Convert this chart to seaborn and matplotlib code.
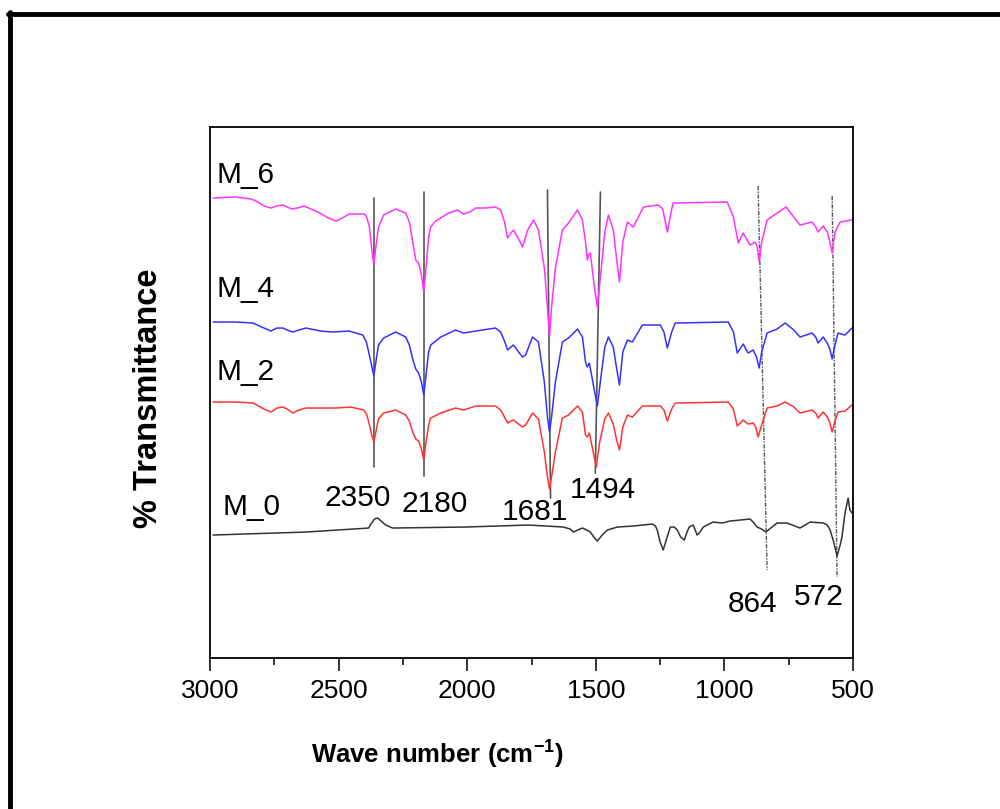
import seaborn as sns
import matplotlib.pyplot as plt
import matplotlib.lines as mlines
import pandas as pd
import numpy as np

# FTIR spectra (wave number, offset transmittance in arbitrary units)
wn_m6 = [2988, 2900, 2840, 2821, 2790, 2763, 2740, 2717, 2700, 2682, 2660, 2635, 2580, 2540,
         2511, 2485, 2460, 2402, 2392, 2380, 2372, 2363, 2355, 2345, 2325,
         2278, 2239, 2225, 2212, 2200, 2189, 2178, 2169, 2160, 2150, 2142, 2123, 2072, 2037,
         2014, 1990, 1967, 1929, 1890, 1870, 1855, 1843, 1830, 1820, 1800, 1785, 1765, 1742,
         1723, 1700, 1688, 1680, 1672, 1657, 1630, 1606, 1571, 1552, 1540, 1533, 1527, 1521,
         1508, 1494, 1480, 1465, 1451, 1432, 1420, 1408, 1395, 1377, 1354, 1315, 1257, 1240,
         1222, 1205, 1199, 989, 965, 946, 927, 912, 900, 880, 872, 865, 855, 834, 795, 760,
         730, 706, 659, 645, 636, 616, 600, 590, 581, 570, 550, 504]
tr_m6 = [439, 440, 438, 436, 431, 429, 431, 432, 430, 428, 429, 431, 425, 419,
         416, 419, 423, 423, 421, 410, 390, 372, 390, 410, 422,
         428, 424, 415, 395, 377, 374, 362, 345, 370, 400, 410, 416, 424, 427,
         423, 425, 429, 429, 430, 427, 415, 399, 404, 407, 398, 390, 407, 417,
         407, 369, 330, 300, 330, 369, 407, 414, 427, 417, 395, 377, 383, 384,
         355, 330, 365, 405, 422, 407, 380, 355, 395, 415, 410, 430, 432, 428,
         405, 428, 434, 435, 420, 394, 404, 397, 392, 395, 390, 375, 395, 417, 424, 430,
         420, 412, 415, 410, 405, 411, 405, 395, 384, 405, 415, 417]

wn_m4 = [2988, 2900, 2833, 2790, 2763, 2740, 2717, 2700, 2678, 2655, 2627, 2570, 2523, 2460,
         2406, 2392, 2383, 2372, 2363, 2355, 2345, 2325, 2278, 2239, 2225, 2212, 2200, 2189,
         2178, 2169, 2160, 2150, 2142, 2103, 2045, 2014, 1967, 1890, 1870, 1855, 1843, 1830,
         1820, 1800, 1785, 1773, 1746, 1723, 1700, 1688, 1680, 1672, 1657, 1630, 1606, 1571,
         1552, 1540, 1533, 1525, 1508, 1494, 1480, 1465, 1451, 1432, 1420, 1408, 1395, 1377,
         1358, 1319, 1249, 1235, 1222, 1205, 1191, 985, 965, 950, 927, 908, 888, 875, 865,
         855, 834, 795, 764, 730, 706, 659, 645, 636, 616, 600, 590, 581, 570, 558, 531, 504]
tr_m4 = [315, 315, 314, 309, 306, 309, 309, 307, 305, 307, 309, 306, 305, 306,
         302, 295, 285, 272, 261, 275, 292, 299, 305, 300, 292, 278, 268, 264,
         255, 242, 262, 285, 292, 300, 307, 304, 306, 309, 305, 296, 287, 290,
         292, 285, 280, 282, 300, 295, 255, 220, 205, 220, 255, 295, 299, 308,
         300, 275, 270, 274, 250, 231, 260, 290, 300, 290, 270, 252, 285, 297,
         295, 312, 312, 305, 289, 305, 314, 315, 305, 284, 293, 284, 287, 280, 269,
         285, 304, 308, 314, 307, 300, 304, 300, 294, 300, 294, 288, 278, 292, 304, 302, 309]

wn_m2 = [2988, 2900, 2833, 2790, 2763, 2740, 2717, 2700, 2678, 2655, 2627, 2570, 2511, 2453,
         2402, 2390, 2380, 2372, 2363, 2355, 2345, 2325, 2278, 2239, 2225, 2212, 2200, 2189,
         2178, 2169, 2160, 2150, 2142, 2103, 2045, 2014, 1967, 1890, 1870, 1855, 1843, 1830,
         1820, 1800, 1785, 1773, 1746, 1723, 1700, 1688, 1680, 1672, 1657, 1630, 1606, 1571,
         1552, 1540, 1533, 1525, 1510, 1498, 1485, 1465, 1451, 1432, 1420, 1408, 1395, 1377,
         1358, 1319, 1249, 1235, 1222, 1205, 1191, 985, 965, 950, 927, 908, 888, 878, 869,
         855, 834, 795, 764, 730, 706, 659, 645, 636, 616, 600, 590, 581, 570, 558, 531, 504]
tr_m2 = [235, 235, 234, 228, 225, 229, 230, 228, 224, 227, 229, 229, 229, 230,
         227, 222, 212, 203, 195, 205, 218, 224, 227, 222, 216, 205, 198, 196,
         188, 177, 195, 212, 219, 224, 229, 227, 231, 231, 227, 220, 214, 216,
         217, 213, 210, 212, 224, 218, 185, 160, 148, 160, 185, 219, 222, 231,
         225, 202, 200, 204, 185, 170, 195, 218, 224, 213, 198, 187, 210, 222,
         220, 231, 231, 227, 216, 228, 234, 235, 228, 211, 217, 213, 214, 210, 200,
         212, 229, 231, 235, 230, 224, 227, 224, 219, 225, 220, 214, 205, 216, 225, 226, 232]

wn_m0 = [2988, 2627, 2383, 2375, 2360, 2348, 2330, 2317, 2290, 2006, 1762, 1626, 1600, 1587,
         1570, 1552, 1535, 1521, 1508, 1494, 1475, 1455, 1416, 1354, 1280, 1268, 1261, 1250,
         1238, 1225, 1210, 1195, 1183, 1170, 1156, 1145, 1137, 1121, 1106, 1095, 1082, 1044,
         1009, 978, 900, 885, 873, 855, 838, 820, 795, 756, 706, 667, 616, 600, 589, 575,
         562, 550, 543, 531, 519, 512, 504]
tr_m0 = [102, 105, 109, 113, 118, 119, 115, 112, 109, 110, 112, 110, 108, 105,
         107, 109, 107, 105, 100, 96, 102, 107, 110, 111, 113, 111, 107, 95,
         87, 98, 110, 110, 107, 100, 97, 105, 110, 112, 102, 105, 110, 115,
         114, 116, 118, 114, 110, 108, 105, 109, 114, 114, 109, 115, 114, 112, 107, 95,
         81, 92, 100, 124, 139, 127, 124]

samples = ["M_6", "M_4", "M_2", "M_0"]
colors = ["#ff33ff", "#3333ff", "#ff3333", "#333333"]

# marker lines: (top wn, top y, bottom wn, bottom y)
solid_marks = [(2363, 439, 2363, 170), (2169, 445, 2169, 161),
               (1688, 447, 1676, 139), (1482, 445, 1502, 164)]
dashed_marks = [(869, 451, 834, 67), (581, 441, 562, 60)]

peak_labels = ["2350", "2180", "1681", "1494", "864", "572"]
peak_label_x = [2425, 2125, 1736, 1472, 889, 632]
peak_label_y = [131, 125, 117, 139, 25, 32]

sample_label_x = [2973, 2973, 2973, 2953]
sample_label_y = [454, 340, 257, 122]

frames = []
for name, w, t in zip(samples, [wn_m6, wn_m4, wn_m2, wn_m0], [tr_m6, tr_m4, tr_m2, tr_m0]):
    frames.append(pd.DataFrame({"wn": w, "tr": t, "sample": name}))
df = pd.concat(frames, ignore_index=True)

sns.set_style("ticks")
plt.rcParams['font.family'] = ['Liberation Sans', 'DejaVu Sans']
plt.rcParams['text.color'] = 'black'
plt.rcParams['axes.labelcolor'] = 'black'
plt.rcParams['xtick.color'] = 'black'
plt.rcParams['mathtext.fontset'] = 'custom'
plt.rcParams['mathtext.rm'] = 'Liberation Sans:bold'
plt.rcParams['mathtext.bf'] = 'Liberation Sans:bold'

fig = plt.figure(figsize=(10, 8.09), dpi=100)
ax = fig.add_axes([0.210, 0.1866, 0.643, 0.6564])

for (x0, y0, x1, y1) in solid_marks:
    ax.plot([x0, x1], [y0, y1], color="#555555", lw=1.2, zorder=1)
for (x0, y0, x1, y1) in dashed_marks:
    ax.plot([x0, x1], [y0, y1], color="#555555", lw=1.0, ls=(0, (3, 1, 1, 1)), zorder=1)

sns.lineplot(data=df, x="wn", y="tr", hue="sample", palette=dict(zip(samples, colors)),
             estimator=None, sort=False, lw=1.1, legend=False, ax=ax, zorder=2)

ax.set_xlim(3000, 500)
ax.set_ylim(-21, 510)
ax.set_xticks([3000, 2500, 2000, 1500, 1000, 500])
ax.set_xticks([2750, 2250, 1750, 1250, 750], minor=True)
ax.set_yticks([])
ax.tick_params(axis="x", which="major", length=9, width=1.1, direction="out", pad=6,
               labelsize=19, colors="black")
ax.tick_params(axis="x", which="minor", length=5, width=1.1, direction="out")
for lab in ax.get_xticklabels():
    lab.set_family(['Liberation Sans Narrow', 'Liberation Sans'])
for sp in ax.spines.values():
    sp.set_linewidth(1.3)
    sp.set_color("black")

ax.set_xlabel(r"Wave number (cm$^{\mathbf{-1}}$)", fontsize=18.5, fontweight="bold",
              family=['Liberation Sans Narrow', 'Liberation Sans'])
ax.xaxis.set_label_coords(0.354, -0.148)
ax.set_ylabel("% Transmittance", fontsize=23.5, fontweight="bold")
ax.yaxis.set_label_coords(-0.071, 0.49)

for name, x, y in zip(samples, sample_label_x, sample_label_y):
    ax.text(x, y, name, fontsize=21.5, ha="left", va="baseline")
for lab, x, y in zip(peak_labels, peak_label_x, peak_label_y):
    ax.text(x, y, lab, fontsize=21.5, ha="center", va="baseline")

# page frame (left and top edges)
fig.add_artist(mlines.Line2D([0.010, 0.010], [0, 0.985], color="black", lw=3.5))
fig.add_artist(mlines.Line2D([0.008, 1.0], [0.983, 0.983], color="black", lw=3.5))

fig.savefig("out.png", dpi=100)
